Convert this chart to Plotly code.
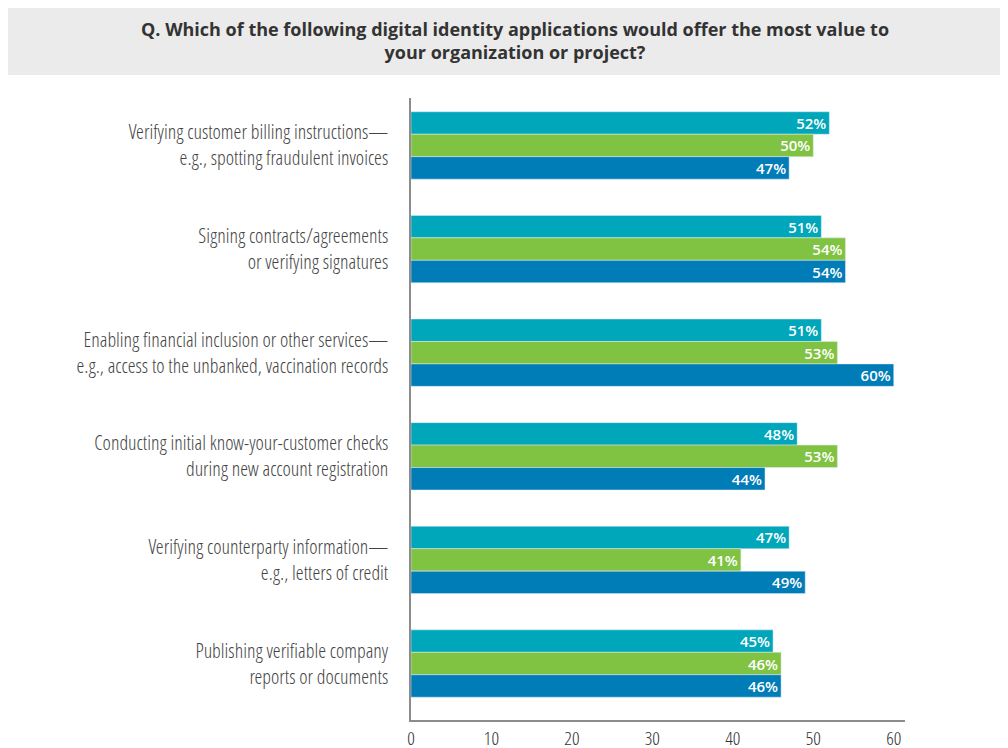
import plotly.graph_objects as go

categories = [
    "Verifying customer billing instructions—<br>e.g., spotting fraudulent invoices",
    "Signing contracts/agreements<br>or verifying signatures",
    "Enabling financial inclusion or other services—<br>e.g., access to the unbanked, vaccination records",
    "Conducting initial know-your-customer checks<br>during new account registration",
    "Verifying counterparty information—<br>e.g., letters of credit",
    "Publishing verifiable company<br>reports or documents",
]
series_a = [52, 51, 51, 48, 47, 45]
series_b = [50, 54, 53, 53, 41, 46]
series_c = [47, 54, 60, 44, 49, 46]
x_ticks = [0, 10, 20, 30, 40, 50, 60]

colors = ["#00a6b9", "#80c241", "#007cb6"]
label_font = dict(family="Open Sans Condensed Light, Open Sans Condensed, Liberation Sans Narrow, sans-serif",
                  weight=300)

fig = go.Figure()
for vals, col in zip([series_a, series_b, series_c], colors):
    fig.add_trace(go.Bar(
        y=categories,
        x=vals,
        orientation="h",
        marker_color=col,
        text=[f"{v}%" for v in vals],
        textposition="inside",
        insidetextanchor="end",
        textfont=dict(color="white", size=15, family="Open Sans, sans-serif", weight=600),
        cliponaxis=False,
    ))

# grey title box
fig.add_shape(type="rect", xref="paper", yref="paper",
              x0=-0.83, x1=1.21, y0=1.037, y1=1.145,
              fillcolor="#ebebeb", line_width=0, layer="below")
fig.add_annotation(
    xref="paper", yref="paper", x=0.2105, y=1.093,
    text="<b>Q. Which of the following digital identity applications would offer the most value to<br>your organization or project?</b>",
    showarrow=False, align="center", xanchor="center", yanchor="middle",
    font=dict(size=18, color="#333333", family="Open Sans, sans-serif"),
)

fig.update_layout(
    width=1000, height=740,
    margin=dict(l=403, r=103, t=90, b=28, autoexpand=False),
    barmode="group", bargap=0.35, bargroupgap=0,
    showlegend=False,
    plot_bgcolor="white", paper_bgcolor="white",
    uniformtext=dict(minsize=15, mode="show"),
)
fig.update_xaxes(
    range=[0, 61.4], tickvals=x_ticks, showgrid=False, zeroline=False,
    showline=True, linecolor="#8c8c8c", linewidth=1.5, automargin=False,
    tickfont=dict(size=19, color="#333333", **label_font), ticks="", ticklabelstandoff=0,
)
fig.update_yaxes(
    range=[5.545, -0.458], showgrid=False, zeroline=False,
    showline=True, linecolor="#8c8c8c", linewidth=1.5, automargin=False,
    tickfont=dict(size=20, color="#444444", **label_font), ticks="", ticklabelstandoff=17,
)

fig.write_html("out.html")
